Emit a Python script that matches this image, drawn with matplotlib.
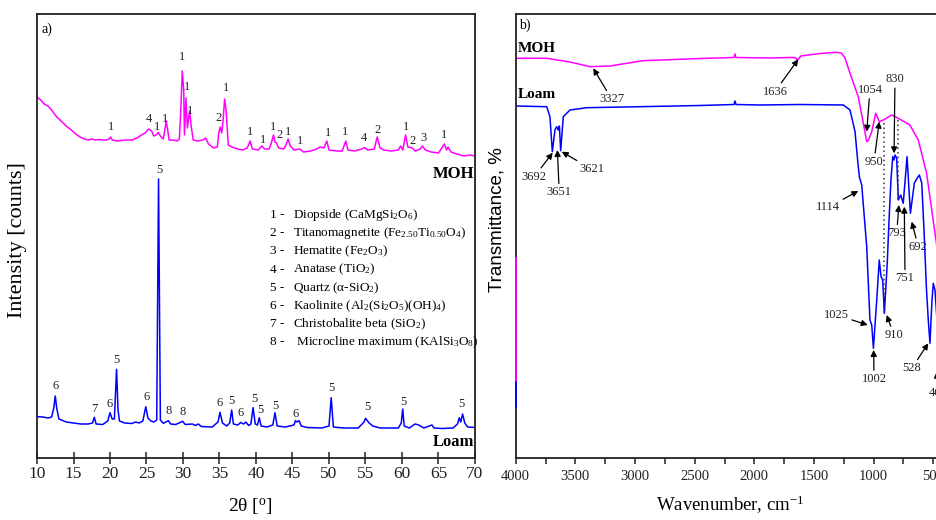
import matplotlib
matplotlib.use('Agg')
import matplotlib.pyplot as plt
from matplotlib.ticker import MultipleLocator

plt.rcParams['font.family'] = ['Liberation Serif', 'DejaVu Serif']
plt.rcParams['mathtext.fontset'] = 'custom'
plt.rcParams['mathtext.rm'] = 'Liberation Serif'
plt.rcParams['mathtext.it'] = 'Liberation Serif:italic'
plt.rcParams['mathtext.default'] = 'regular'

# ---------------- XRD data (panel a) ----------------
moh_2theta = [10.0, 10.5, 11.0, 11.5, 12.0, 12.7, 13.3, 14.0, 14.7, 15.3, 15.9, 16.5, 17.0, 17.5,
              18.0, 18.5, 19.0, 19.5, 19.9, 20.1, 20.3, 21.0, 22.0, 23.0, 23.7, 24.3, 24.8, 25.3,
              25.7, 26.0, 26.3, 26.6, 26.9, 27.3, 27.5, 27.7, 27.9, 28.1, 28.6, 29.2, 29.5, 29.7,
              29.9, 30.1, 30.2, 30.4, 30.6, 30.9, 31.1, 31.4, 32.0, 32.7, 33.1, 33.5, 34.2, 34.7,
              34.9, 35.1, 35.3, 35.5, 35.7, 35.9, 36.2, 36.7, 37.5, 38.2, 38.8, 39.2, 39.5, 40.3,
              40.8, 41.2, 41.8, 42.1, 42.4, 42.6, 42.8, 43.1, 43.8, 44.1, 44.4, 44.7, 45.2, 46.0,
              46.5, 47.5, 48.3, 48.8, 49.3, 49.7, 50.0, 51.0, 51.8, 52.3, 52.6, 53.5, 54.5, 54.9,
              55.3, 56.2, 56.6, 57.0, 57.5, 58.5, 59.5, 59.8, 60.1, 60.5, 60.8, 61.4, 61.8, 62.5,
              62.8, 63.2, 64.0, 65.0, 65.8, 66.1, 66.3, 66.7, 67.5, 68.5, 69.3, 70.0]
moh_counts = [361, 358, 354, 352, 348, 341, 337, 332, 328, 324, 321, 319, 318, 319,
              318, 318.5, 318, 318, 319, 321, 318, 317, 318, 318, 320, 323, 325, 329,
              327, 322, 323, 325.5, 322, 319, 328, 337, 328, 318, 318, 317, 319, 348,
              387, 368, 323, 360, 330, 347, 333, 318, 317, 318, 320, 314, 310, 311,
              325, 331, 325, 338, 359, 348, 313, 311, 309, 308, 310, 317, 309, 308,
              312, 309, 309, 315, 323, 316, 315, 310, 309, 313, 319, 312, 308, 309,
              306, 307, 309, 311, 310, 317, 308, 307, 307, 317, 308, 307, 309, 310.5,
              308, 309, 321, 310, 308, 307, 308, 312, 308, 323, 311, 310, 307, 309,
              312, 308, 306, 305, 314, 308, 311, 306, 304, 302, 303, 302]

loam_2theta = [10.0, 10.8, 11.5, 12.0, 12.3, 12.5, 12.7, 13.0, 14.0, 15.0, 16.0, 17.0, 17.6, 17.85,
               18.1, 19.0, 19.7, 20.0, 20.3, 20.6, 20.9, 21.1, 21.3, 22.0, 23.0, 23.5, 24.0, 24.5,
               24.9, 25.2, 25.6, 26.0, 26.4, 26.65, 26.9, 27.3, 28.0, 28.3, 29.0, 29.96, 30.3, 31.3,
               31.7, 32.1, 32.5, 34.0, 34.8, 35.07, 35.4, 36.0, 36.4, 36.67, 36.9, 37.5, 37.9, 38.3,
               38.6, 39.0, 39.3, 39.6, 39.9, 40.2, 40.45, 40.7, 41.5, 42.3, 42.6, 42.9, 44.0, 45.2,
               45.4, 45.6, 45.9, 46.2, 47.0, 49.0, 50.0, 50.3, 50.6, 52.0, 54.0, 54.8, 55.0, 55.5,
               56.0, 57.0, 59.5, 59.9, 60.1, 60.3, 61.0, 61.8, 62.3, 63.0, 64.1, 64.4, 65.5, 67.0,
               67.6, 67.85, 68.05, 68.3, 68.6, 69.0, 70.0]
loam_counts = [41.3, 41, 40, 41, 50, 62, 50, 39, 36, 35, 34, 34, 35, 40.7,
               34, 33.5, 37, 45.3, 39, 39, 88.7, 48, 37, 35, 34.5, 36, 35, 37,
               51.3, 40, 37, 36, 38, 279, 38, 34.7, 37.3, 34, 33.5, 36.7, 33.5, 34,
               32.5, 34, 31.5, 31, 36, 45.7, 35, 32, 35, 48, 34, 33, 35.5, 34,
               36, 32.5, 34, 50.3, 34, 33, 40.3, 32, 31, 33, 45.3, 32, 31, 33,
               37.3, 36, 37.3, 32, 30.5, 30, 32, 60.3, 31, 30, 30, 36, 39.7, 35,
               32, 30, 30, 35, 49, 32, 30, 34, 33, 30, 33, 30, 29.5, 30,
               34, 40.3, 36, 44, 35, 31, 30.5]

moh_peak_2theta = [20.1, 25.3, 26.5, 27.6, 29.9, 30.5, 31.0, 34.9, 35.9, 39.2, 40.9, 42.4, 43.2,
                   44.4, 46.0, 49.9, 52.2, 54.8, 56.6, 60.5, 61.5, 62.9, 65.7]
moh_peak_counts = [330.7, 339, 331.3, 339, 400.7, 370.7, 347, 339.7, 369.7, 325.7, 318, 331.3, 323,
                   325.7, 317, 324.7, 325.7, 320.3, 328, 331.3, 317.3, 320.3, 323]
moh_peak_phase = ['1', '4', '1', '1', '1', '1', '1', '2', '1', '1', '1', '1', '2',
                  '1', '1', '1', '1', '4', '2', '1', '2', '3', '1']

loam_peak_2theta = [12.56, 17.9, 20.0, 20.9, 25.0, 26.75, 27.99, 29.96, 35.07, 36.67, 37.95, 39.73,
                    40.55, 42.64, 45.48, 50.27, 55.3, 60.18, 68.18]
loam_peak_counts = [72, 49, 53.7, 98, 61.3, 288, 47, 45.7, 55.3, 57.3, 45.3, 58.7,
                    48, 52.3, 44, 69.7, 50.7, 56.3, 53.7]
loam_peak_phase = ['6', '7', '6', '5', '6', '5', '8', '8', '6', '5', '6', '5',
                   '5', '5', '6', '5', '5', '5', '5']

legend_nums = ['1 -', '2 -', '3 -', '4 -', '5 -', '6 -', '7 -', '8 -']
legend_names = ['Diopside (CaMgSi$_2$O$_6$)',
                'Titanomagnetite (Fe$_{2.50}$Ti$_{0.50}$O$_4$)',
                'Hematite (Fe$_2$O$_3$)',
                'Anatase (TiO$_2$)',
                'Quartz (\u03b1-SiO$_2$)',
                'Kaolinite (Al$_2$(Si$_2$O$_5$)(OH)$_4$)',
                'Christobalite beta (SiO$_2$)',
                ' Microcline maximum (KAlSi$_3$O$_8$)']

xrd_ticks = [10, 15, 20, 25, 30, 35, 40, 45, 50, 55, 60, 65, 70]

# ---------------- FTIR data (panel b) ----------------
moh_wn = [4000, 3740, 3545, 3377, 3210, 2933, 2455, 2170, 2162, 2154, 1869, 1701, 1660, 1636,
          1610, 1450, 1310, 1268, 1240, 1198, 1129, 1087, 1058, 1043, 1016, 983, 953, 919,
          849, 813, 779, 696, 626, 556, 472, 402]
moh_T = [399.7, 399.7, 396, 391.3, 392, 397.3, 399.5, 400.5, 404, 400.5, 400, 400.5, 400.5, 398,
         402, 404.5, 405.7, 404.7, 400, 384.7, 361.3, 335, 316.3, 318, 326.3, 344.7, 336.3, 338,
         343, 341, 338.7, 333, 318, 284.7, 213, 158]

loam_wn = [4000, 3740, 3713, 3693, 3671, 3657, 3643, 3634, 3623, 3601, 3545, 3405, 2875, 2455,
           2170, 2162, 2154, 1953, 1618, 1254, 1198, 1156, 1129, 1118, 1112, 1100, 1058, 1031,
           1016, 1002, 974, 953, 938, 924, 910, 886, 871, 855, 840, 829, 821, 807, 793,
           773, 752, 720, 692, 659, 645, 617, 597, 578, 557, 542, 528, 511, 500, 486, 469, 444]
loam_T = [352, 351.3, 341.3, 306.3, 328, 331.3, 328, 332, 307.3, 341.3, 348, 350.3, 351.5, 352.5,
          353.5, 357, 353.5, 353, 353.5, 353, 348, 326.3, 291.3, 280, 278, 273, 211.3, 138,
          133, 109.7, 158, 198, 181.3, 178, 144.7, 195, 238, 278, 301.3, 298, 303, 300, 258,
          263, 254.7, 301.3, 244.7, 274.7, 278, 283, 275, 228, 168, 138, 114.7, 158, 174.7, 168, 138, 78]

# segments drawn along the 4000 cm-1 edge
moh_edge_T = [200, 76.3]
loam_edge_T = [76.3, 51.3]

dotted_wn = [911, 793]
dotted_top = [335, 338]
dotted_bottom = [145, 258]

ftir_labels = ['3327', '1636', '1054', '950', '830', '1114', '793', '751', '692',
               '1025', '1002', '910', '528', '469', '3692', '3651', '3621']
ftir_tip_wn = [3350, 1632, 1058, 953, 829, 1129, 788, 743, 681,
               1050, 1000, 891, 542, 472, 3690, 3651, 3614]
ftir_tip_T = [389.7, 398.7, 326.3, 336.3, 304.7, 267, 253, 251.3, 236.3,
              133, 108, 143, 114.7, 86.3, 305.3, 308, 306.3]
ftir_text_wn = [3195, 1827, 1031, 997, 821, 1380, 807, 737, 626,
                1310, 997, 830, 681, 461, 3844, 3635, 3363]
ftir_text_T = [358.7, 366.3, 368, 296.3, 378.7, 250.7, 224.7, 179.7, 211.3,
               143, 79, 123, 89.7, 64.7, 281.3, 265.7, 288.7]

ftir_ticks = [4000, 3500, 3000, 2500, 2000, 1500, 1000, 500]

MAGENTA = '#ff00ff'
BLUE = '#0000ff'
SPINE = '#222222'

W, H = 937, 520
fig = plt.figure(figsize=(W / 100, H / 100), dpi=100)

# ---------------- panel a ----------------
axL = fig.add_axes([37 / W, 62 / H, 438 / W, 444 / H])
axL.plot(moh_2theta, moh_counts, color=MAGENTA, lw=1.1)
axL.plot(loam_2theta, loam_counts, color=BLUE, lw=1.1)
for x, y, t in zip(moh_peak_2theta, moh_peak_counts, moh_peak_phase):
    axL.text(x, y, t, ha='center', va='center', fontsize=9, color='#222222')
for x, y, t in zip(loam_peak_2theta, loam_peak_counts, loam_peak_phase):
    axL.text(x, y, t, ha='center', va='center', fontsize=9, color='#222222')
axL.set_xlim(10, 70)
axL.set_ylim(0, 444)
axL.set_yticks([])
axL.set_xticks(xrd_ticks)
axL.tick_params(axis='x', direction='inout', length=9, width=1.1, labelsize=12.5, pad=1,
                colors=SPINE)
for s in axL.spines.values():
    s.set_linewidth(1.3)
    s.set_color(SPINE)
axL.text(0.998, (458 - 174) / 444, 'MOH', transform=axL.transAxes, ha='right', va='center',
         fontsize=12, fontweight='bold')
axL.text(0.998, (458 - 441.7) / 444, 'Loam', transform=axL.transAxes, ha='right', va='center',
         fontsize=12, fontweight='bold')
axL.text(0.01, (458 - 29) / 444, 'a)', transform=axL.transAxes, ha='left', va='center', fontsize=10)
for i, (n, name) in enumerate(zip(legend_nums, legend_names)):
    yy = (458 - 215) / 444 - i * 0.0410
    axL.text((270 - 37) / 438, yy, n, transform=axL.transAxes, ha='left', va='center', fontsize=9.5)
    axL.text((293 - 37) / 438, yy, name, transform=axL.transAxes, ha='left', va='center', fontsize=9.5)
axL.set_xlabel('2\u03b8 [$^{o}$]', fontsize=14)
axL.xaxis.set_label_coords((250 - 37) / 438, (458 - 496) / 444)
axL.set_ylabel('Intensity [counts]', fontsize=16)
axL.yaxis.set_label_coords((27 - 37) / 438, (458 - 240) / 444)

# ---------------- panel b ----------------
axR = fig.add_axes([515.7 / W, 62 / H, (937 - 515.7) / W, 444 / H])
axR.plot(moh_wn, moh_T, color=MAGENTA, lw=1.1)
axR.plot(loam_wn, loam_T, color=BLUE, lw=1.1)
axR.plot([4000, 4000], moh_edge_T, color=MAGENTA, lw=1.3, clip_on=False, zorder=5)
axR.plot([4000, 4000], loam_edge_T, color=BLUE, lw=1.3, clip_on=False, zorder=5)
for x, y0, y1 in zip(dotted_wn, dotted_top, dotted_bottom):
    axR.plot([x, x], [y0, y1], color='#333333', ls=(0, (1, 2)), lw=1.1)
for lab, tx, ty, sx, sy in zip(ftir_labels, ftir_tip_wn, ftir_tip_T, ftir_text_wn, ftir_text_T):
    axR.annotate(lab, xy=(tx, ty), xytext=(sx, sy), ha='center', va='center', fontsize=9,
                 color='#222222',
                 arrowprops=dict(arrowstyle='-|>', color='black', lw=0.9, mutation_scale=9,
                                 shrinkA=0, shrinkB=0))
axR.set_xlim(4000, 469)
axR.set_ylim(0, 444)
axR.set_yticks([])
axR.set_xticks(ftir_ticks)
axR.xaxis.set_minor_locator(MultipleLocator(250))
axR.tick_params(axis='x', which='major', direction='out', length=4, width=1.1, labelsize=10.5,
                pad=5, colors=SPINE)
axR.tick_params(axis='x', which='minor', direction='out', length=4, width=1.1, colors=SPINE)
for k, s in axR.spines.items():
    s.set_linewidth(1.3)
    s.set_color(SPINE)
axR.spines['right'].set_visible(False)
axR.text(0.004, (458 - 49) / 444, 'MOH', transform=axR.transAxes, ha='left', va='center',
         fontsize=11, fontweight='bold')
axR.text(0.004, (458 - 95) / 444, 'Loam', transform=axR.transAxes, ha='left', va='center',
         fontsize=11, fontweight='bold')
axR.text(0.008, (458 - 25) / 444, 'b)', transform=axR.transAxes, ha='left', va='center', fontsize=10)
axR.set_xlabel('Wavenumber, cm$^{-1}$', fontsize=13.5)
axR.xaxis.set_label_coords((730 - 515.7) / 421.3, (458 - 494) / 444)
axR.set_ylabel('Transmittance, %', fontsize=13.5, family=['Liberation Sans', 'DejaVu Sans'])
axR.yaxis.set_label_coords((505 - 515.7) / 421.3, (458 - 220) / 444)

fig.savefig('out.png', dpi=100)
